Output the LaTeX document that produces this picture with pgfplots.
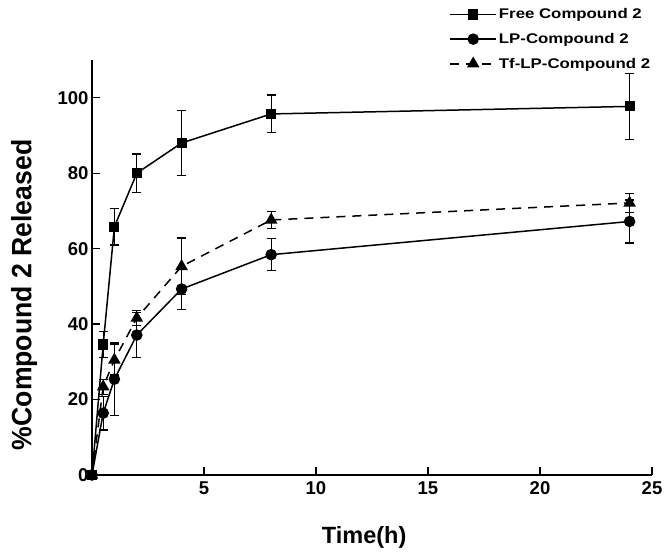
\documentclass[border=0pt]{standalone}
\usepackage{fontspec}
\setmainfont{Liberation Sans}
\newfontfamily\ylabfont[FakeStretch=0.95]{Liberation Sans}
\newfontfamily\legfont[FakeStretch=1.2]{Liberation Sans}
\usepackage{pgfplots}
\pgfplotsset{compat=1.18}

% time (h), mean release (%), SD
\pgfplotstableread{
t   y     e
0   0     0
0.5 34.6  3.5
1   65.8  4.8
2   80.0  5.1
4   88.0  8.7
8   95.7  5.0
24  97.7  8.8
}\freedata
\pgfplotstableread{
t   y     e
0   0     0
0.5 16.4  4.5
1   25.4  9.6
2   37.1  6.0
4   49.3  5.5
8   58.4  4.2
24  67.2  5.7
}\lpdata
\pgfplotstableread{
t   y     e
0   0     0
0.5 23.4  2.0
1   30.5  4.0
2   41.6  2.0
4   55.3  7.5
8   67.6  2.3
24  72.1  2.5
}\tfdata

\begin{document}
\begin{tikzpicture}
\path[use as bounding box] (-92pt,-79pt) rectangle (577pt,475pt);
\begin{axis}[
    scale only axis,
    width=560pt, height=415pt,
    at={(0,0)}, anchor=south west,
    xmin=0, xmax=25, ymin=0, ymax=110,
    axis x line=bottom, axis y line=left,
    axis line style={-, line width=1.5pt},
    tick align=inside,
    major tick length=8pt,
    tick style={line width=1.3pt, black},
    xtick={5,10,15,20,25},
    ytick={0,20,40,60,80,100},
    /pgf/number format/assume math mode=true,
    ticklabel style={font=\bfseries\fontsize{18.5}{18.5}\selectfont},
    xticklabel style={yshift=-3pt},
    xlabel={Time(h)},
    ylabel={\%Compound 2 Released},
    xlabel style={font=\bfseries\fontsize{23.5}{23.5}\selectfont,
        at={(axis description cs:0.486,-0.164)}, anchor=base},
    ylabel style={font=\ylabfont\bfseries\fontsize{28}{28}\selectfont,
        at={(axis description cs:-0.121,0.434)}, anchor=center},
    clip=false,
    legend style={at={(axis description cs:0.638,1.129)}, anchor=north west,
        draw=none, fill=none, font=\legfont\bfseries\fontsize{14}{14}\selectfont,
        row sep=9pt, inner sep=0pt},
    legend cell align=left,
    legend image code/.code={
        \draw[#1, mark repeat=2, mark phase=2] plot coordinates {(0pt,0pt) (23pt,0pt) (46pt,0pt)};},
    error bars/y dir=both,
    error bars/y explicit,
    error bars/error bar style={line width=1.3pt, black, solid},
    error bars/error mark options={line width=1.3pt, mark size=4.5pt, rotate=90, black, solid},
]
\addplot[black, line width=1.5pt, mark=square*, mark size=4.3pt, mark options={solid}]
    table[x=t, y=y, y error=e] {\freedata};
\addlegendentry{Free Compound 2}
\addplot[black, line width=1.5pt, mark=*, mark size=5pt, mark options={solid}]
    table[x=t, y=y, y error=e] {\lpdata};
\addlegendentry{LP-Compound 2}
\addplot[black, line width=1.5pt, dash pattern=on 9pt off 7pt, mark=triangle*, mark size=5.8pt, mark options={solid}]
    table[x=t, y=y, y error=e] {\tfdata};
\addlegendentry{Tf-LP-Compound 2}
\end{axis}
\end{tikzpicture}
\end{document}
